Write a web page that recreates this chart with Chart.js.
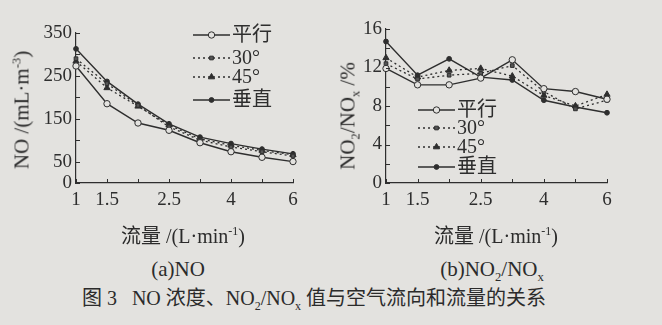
<!DOCTYPE html>
<html>
<head>
<meta charset="utf-8">
<script src="https://cdn.jsdelivr.net/npm/chart.js@4/dist/chart.umd.min.js"></script>
<style>
  html, body { margin: 0; padding: 0; }
  body { width: 662px; height: 325px; background: #e3e2df; position: relative; overflow: hidden;
         font-family: 'Liberation Serif', 'Noto Sans CJK SC', serif; color: #2b2b2b; }
  canvas { position: absolute; top: 0; }
  #cNO { left: 0; }
  #cRatio { left: 330px; }
  .txt { position: absolute; white-space: nowrap; transform: translate(-50%, -50%); line-height: 1; }
  .rot { transform: translate(-50%, -50%) rotate(-90deg); }
  sub, sup { font-size: 0.6em; line-height: 0; }
</style>
</head>
<body>
<canvas id="cNO" width="330" height="225"></canvas>
<canvas id="cRatio" width="332" height="225"></canvas>

<div class="txt rot" style="left:22px; top:110px; font-size:21px;">NO /(mL·m<sup>-3</sup>)</div>
<div class="txt rot" style="left:348px; top:116px; font-size:21px;">NO<sub>2</sub>/NO<sub>x</sub> /%</div>
<div class="txt" style="left:183px; top:236px; font-size:20px;">流量 /(L·min<sup>-1</sup>)</div>
<div class="txt" style="left:496px; top:236px; font-size:20px;">流量 /(L·min<sup>-1</sup>)</div>
<div class="txt" style="left:178px; top:269px; font-size:21px;">(a)NO</div>
<div class="txt" style="left:492px; top:269px; font-size:21px;">(b)NO<sub>2</sub>/NO<sub>x</sub></div>
<div class="txt" style="left:314px; top:298px; font-size:20px;">图 3&nbsp;&nbsp; NO 浓度、NO<sub>2</sub>/NO<sub>x</sub> 值与空气流向和流量的关系</div>

<script>
// 流量 (L/min)
const flows = ['1', '1.5', '2', '2.5', '3', '4', '5', '6'];
const xTickLabels = ['1', '1.5', '2.5', '4', '6'];
const seriesNames = ['平行', '30°', '45°', '垂直'];

// (a) NO 浓度, mL/m3
const noParallel = [273, 185, 140, 123, 94, 73, 60, 50];
const no30 = [290, 232, 181, 131, 100, 84, 73, 63];
const no45 = [284, 222, 179, 135, 103, 88, 76, 66];
const noVertical = [313, 237, 184, 138, 107, 92, 79, 68];
const noYTicks = [0, 50, 150, 250, 350];

// (b) NO2/NOx, %
const ratioParallel = [11.9, 10.2, 10.2, 10.9, 12.8, 9.8, 9.5, 8.7];
const ratio30 = [12.4, 10.8, 11.2, 11.4, 12.2, 9.5, 7.7, 8.6];
const ratio45 = [13.0, 11.0, 11.7, 11.9, 11.1, 9.1, 8.0, 9.2];
const ratioVertical = [14.7, 11.2, 12.9, 11.0, 10.7, 8.6, 7.9, 7.3];
const ratioYTicks = [0, 4, 8, 12, 16];

const INK = '#2e2e2e';
const BG = '#e3e2df';
const FONT = "'Liberation Serif', 'Noto Sans CJK SC', serif";

const styles = [
    { borderDash: [], pointStyle: 'circle', pointRadius: 3.2, pointBackgroundColor: BG, borderWidth: 1.4 },
    { borderDash: [2, 3], pointStyle: 'rect', pointRadius: 2.6, pointBackgroundColor: '#555', borderWidth: 1.3 },
    { borderDash: [2, 3], pointStyle: 'triangle', pointRadius: 3.6, pointBackgroundColor: INK, borderWidth: 1.3 },
    { borderDash: [], pointStyle: 'circle', pointRadius: 2.4, pointBackgroundColor: INK, borderWidth: 1.4 }
];

const makeDatasets = (arrays) => arrays.map((data, i) => ({
    label: seriesNames[i],
    data: data,
    borderColor: INK,
    pointBorderColor: INK,
    pointBorderWidth: 1,
    tension: 0,
    fill: false,
    ...styles[i]
}));

// inward tick marks + legend drawn inside the plot
const paperPlugin = {
    id: 'paper',
    afterDatasetsDraw(chart, args, opts) {
        const ctx = chart.ctx;
        const { x, y } = chart.scales;
        ctx.save();
        ctx.strokeStyle = INK;
        ctx.lineWidth = 1;
        ctx.beginPath();
        x.ticks.forEach((t, i) => {
            const px = Math.round(x.getPixelForTick(i)) + 0.5;
            ctx.moveTo(px, y.bottom);
            ctx.lineTo(px, y.bottom - 4);
        });
        y.ticks.forEach((t, i) => {
            const py = Math.round(y.getPixelForTick(i)) + 0.5;
            ctx.moveTo(x.left, py);
            ctx.lineTo(x.left + 4, py);
        });
        ctx.stroke();

        const lg = opts.legend;
        chart.data.datasets.forEach((ds, i) => {
            const ly = lg.rows[i];
            ctx.strokeStyle = ds.borderColor;
            ctx.lineWidth = ds.borderWidth;
            ctx.setLineDash(ds.borderDash);
            ctx.beginPath();
            ctx.moveTo(lg.x0, ly);
            ctx.lineTo(lg.x1, ly);
            ctx.stroke();
            ctx.setLineDash([]);
            ctx.fillStyle = ds.pointBackgroundColor;
            ctx.strokeStyle = ds.pointBorderColor;
            ctx.lineWidth = 1;
            Chart.helpers.drawPoint(ctx, { pointStyle: ds.pointStyle, radius: ds.pointRadius, rotation: 0, borderWidth: 1 },
                (lg.x0 + lg.x1) / 2, ly);
            ctx.fillStyle = INK;
            ctx.font = '20px ' + FONT;
            ctx.textBaseline = 'middle';
            ctx.fillText(ds.label, lg.x1 + 2, ly + 1);
        });
        ctx.restore();
    }
};

const makeChart = (canvas, datasets, yMax, yStep, yLabels, yWidth, padTop, padRight, legend) => new Chart(canvas, {
    type: 'line',
    data: { labels: flows, datasets: datasets },
    options: {
        responsive: false,
        animation: false,
        layout: { padding: { top: padTop, right: padRight, bottom: 0, left: 0 } },
        plugins: { legend: { display: false }, tooltip: { enabled: false }, paper: { legend: legend } },
        scales: {
            x: {
                offset: false,
                grid: { display: false, drawTicks: false },
                border: { display: true, color: INK, width: 1.2 },
                ticks: {
                    color: INK, padding: 6, maxRotation: 0, autoSkip: false,
                    font: { family: FONT, size: 19 },
                    callback: (v, i) => xTickLabels.includes(flows[i]) ? flows[i] : ''
                },
                afterFit: (s) => { s.height = 42; }
            },
            y: {
                min: 0, max: yMax,
                grid: { display: false, drawTicks: false },
                border: { display: true, color: INK, width: 1.2 },
                ticks: {
                    stepSize: yStep, color: INK, padding: 4, autoSkip: false,
                    font: { family: FONT, size: 19 },
                    callback: (v) => yLabels.includes(v) ? String(v) : ''
                },
                afterFit: (s) => { s.width = yWidth; }
            }
        }
    },
    plugins: [paperPlugin]
});

makeChart(document.getElementById('cNO'),
    makeDatasets([noParallel, no30, no45, noVertical]), 350, 50, noYTicks, 76, 33, 37,
    { x0: 193, x1: 230, rows: [35, 58, 77, 100] });

makeChart(document.getElementById('cRatio'),
    makeDatasets([ratioParallel, ratio30, ratio45, ratioVertical]), 16, 2, ratioYTicks, 56, 29, 55,
    { x0: 88, x1: 125, rows: [110, 128, 147, 167] });
</script>
</body>
</html>
